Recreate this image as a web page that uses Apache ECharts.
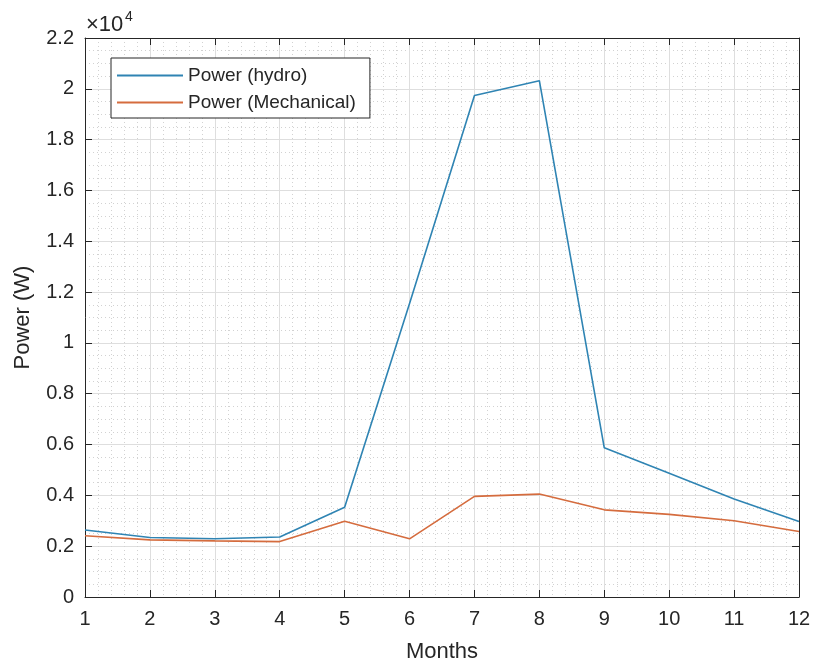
<!DOCTYPE html>
<html>
<head>
<meta charset="utf-8">
<script src="https://cdn.jsdelivr.net/npm/echarts@6/dist/echarts.min.js"></script>
<style>
  html, body { margin: 0; padding: 0; background: #ffffff; }
  #chart { width: 814px; height: 668px; }
</style>
</head>
<body>
<div id="chart"></div>
<script>
// Monthly power output (W)
const months = [1, 2, 3, 4, 5, 6, 7, 8, 9, 10, 11, 12];
const powerHydro = [2640, 2340, 2290, 2360, 3530, 11550, 19740, 20320, 5870, 4870, 3860, 2970];
const powerMechanical = [2410, 2250, 2210, 2180, 2980, 2290, 3960, 4050, 3430, 3250, 3000, 2580];
const seriesNames = ['Power (hydro)', 'Power (Mechanical)'];
const yScale = 1e4; // tick labels are shown in units of 10^4

const FONT = '"Liberation Sans", Arial, Helvetica, sans-serif';
const INK = '#262626';
const BLUE = '#2f84b3';
const ORANGE = '#d56c3e';

const pairs = (vals) => months.map((m, i) => [m, vals[i]]);

const chart = echarts.init(document.getElementById('chart'), null, { renderer: 'canvas' });

const minorGrid = { show: true, lineStyle: { color: '#d2d2d2', type: [1, 3], width: 1 } };
const majorGrid = { show: true, lineStyle: { color: '#dedede', width: 1 } };

chart.setOption({
  animation: false,
  backgroundColor: '#ffffff',
  textStyle: { fontFamily: FONT },
  grid: { left: 85, right: 15, top: 38, bottom: 66, show: false },
  legend: {
    orient: 'vertical',
    left: 111,
    top: 58,
    padding: [8, 14, 6, 6],
    itemWidth: 66,
    itemHeight: 2,
    itemGap: 8,
    icon: 'rect',
    backgroundColor: '#ffffff',
    borderColor: INK,
    borderWidth: 1,
    borderRadius: 0,
    textStyle: { fontFamily: FONT, fontSize: 19, color: INK },
    data: seriesNames
  },
  xAxis: [
    {
      type: 'value', min: 1, max: 12, interval: 1,
      name: 'Months', nameLocation: 'middle', nameGap: 44,
      nameTextStyle: { fontSize: 22, color: INK, fontFamily: FONT },
      axisLine: { show: true, onZero: false, lineStyle: { color: INK, width: 1 } },
      axisTick: { show: true, inside: true, length: 7, lineStyle: { color: INK } },
      axisLabel: { margin: 12, fontSize: 20, color: INK, fontFamily: FONT },
      minorTick: { show: false, splitNumber: 5 },
      splitLine: majorGrid,
      minorSplitLine: minorGrid
    },
    {
      type: 'value', min: 1, max: 12, interval: 1, position: 'top',
      axisLine: { show: true, onZero: false, lineStyle: { color: INK, width: 1 } },
      axisTick: { show: true, inside: true, length: 7, lineStyle: { color: INK } },
      axisLabel: { show: false },
      splitLine: { show: false }
    }
  ],
  yAxis: [
    {
      type: 'value', min: 0, max: 22000, interval: 2000,
      name: 'Power (W)', nameLocation: 'middle', nameGap: 51,
      nameTextStyle: { fontSize: 22, color: INK, fontFamily: FONT },
      axisLine: { show: true, onZero: false, lineStyle: { color: INK, width: 1 } },
      axisTick: { show: true, inside: true, length: 7, lineStyle: { color: INK } },
      axisLabel: {
        margin: 11, fontSize: 20, color: INK, fontFamily: FONT,
        formatter: (v) => String(Math.round(v / yScale * 10) / 10)
      },
      minorTick: { show: false, splitNumber: 4 },
      splitLine: majorGrid,
      minorSplitLine: minorGrid
    },
    {
      type: 'value', min: 0, max: 22000, interval: 2000, position: 'right',
      axisLine: { show: true, onZero: false, lineStyle: { color: INK, width: 1 } },
      axisTick: { show: true, inside: true, length: 7, lineStyle: { color: INK } },
      axisLabel: { show: false },
      splitLine: { show: false }
    }
  ],
  graphic: [
    {
      type: 'text', left: 86, top: 14,
      style: { text: '×10', font: '22px ' + FONT, fill: INK }
    },
    {
      type: 'text', left: 125, top: 10,
      style: { text: '4', font: '14px ' + FONT, fill: INK }
    }
  ],
  series: [
    {
      name: seriesNames[0], type: 'line', xAxisIndex: 0, yAxisIndex: 0,
      data: pairs(powerHydro), symbol: 'none', z: 3,
      lineStyle: { color: BLUE, width: 1.6 },
      itemStyle: { color: BLUE }
    },
    {
      name: seriesNames[1], type: 'line', xAxisIndex: 0, yAxisIndex: 0,
      data: pairs(powerMechanical), symbol: 'none', z: 3,
      lineStyle: { color: ORANGE, width: 1.6 },
      itemStyle: { color: ORANGE }
    }
  ]
});
</script>
</body>
</html>
